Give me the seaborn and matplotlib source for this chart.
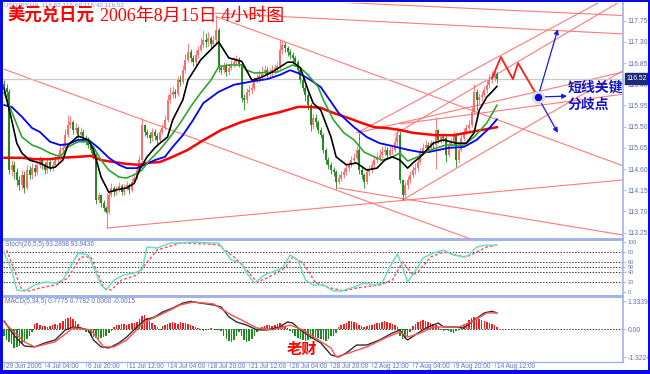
import numpy as np
import seaborn as sns
import matplotlib.pyplot as plt
from matplotlib.patches import Rectangle
from matplotlib.transforms import blended_transform_factory, ScaledTranslation

sns.set_theme(style="white")
plt.rcParams['font.family'] = ['Liberation Sans', 'DejaVu Sans', 'Noto Sans CJK SC']

CJK = ['Noto Sans CJK SC', 'DejaVu Sans']
SERIF_CJK = ['Liberation Serif', 'Noto Sans CJK SC']

# USDJPY H4 bars, 29 Jun 2006 12:00 .. 15 Aug 2006
FIRST_OPEN = 116.40
close = [
    116.32, 116.24, 114.58, 114.69, 114.54, 114.37, 114.26, 114.48, 114.20, 114.58,
    114.48, 114.62, 114.54, 114.69, 114.79, 114.69, 114.58, 114.75, 114.62, 114.69,
    114.79, 114.84, 115.01, 115.05, 115.32, 115.54, 115.60, 115.43, 115.47, 115.32,
    115.39, 115.26, 115.22, 115.11, 115.01, 114.90, 113.94, 114.05, 113.88, 113.77,
    113.69, 114.05, 114.20, 114.11, 114.16, 114.24, 114.11, 114.20, 114.26, 114.16,
    114.33, 114.41, 114.58, 114.79, 115.54, 115.39, 115.32, 115.26, 115.39, 115.30,
    115.22, 115.39, 115.47, 115.64, 116.07, 116.17, 116.24, 116.19, 116.49, 116.45,
    116.70, 116.92, 117.09, 116.96, 116.87, 117.02, 117.13, 117.23, 117.34, 117.30,
    117.38, 117.26, 117.34, 117.55, 116.75, 116.70, 116.79, 116.66, 116.75, 116.83,
    116.87, 116.92, 116.83, 116.11, 116.07, 116.24, 116.28, 116.32, 116.49, 116.53,
    116.58, 116.66, 116.70, 116.62, 116.66, 116.70, 116.75, 116.79, 117.13, 117.23,
    117.17, 117.09, 117.02, 116.96, 116.87, 116.70, 116.49, 116.32, 116.17, 115.96,
    115.54, 115.68, 115.60, 115.43, 115.32, 115.01, 114.79, 114.69, 114.58, 114.54,
    114.33, 114.41, 114.48, 114.54, 114.62, 114.69, 114.79, 114.84, 115.01, 114.58,
    114.48, 114.33, 114.54, 114.58, 114.69, 114.79, 114.84, 114.90, 114.96, 115.01,
    114.90, 115.01, 115.01, 115.18, 115.32, 114.37, 114.05, 114.26, 114.37, 114.48,
    114.58, 114.62, 114.75, 114.96, 115.05, 115.11, 115.05, 115.15, 115.11, 115.43,
    115.22, 115.28, 115.26, 114.90, 115.11, 115.18, 115.32, 114.79, 115.01, 115.26,
    115.39, 115.47, 115.54, 115.81, 116.24, 116.07, 116.13, 116.17, 116.28, 116.39,
    116.49, 116.53, 116.62, 116.52]
high = [
    116.50, 116.40, 116.30, 114.80, 114.78, 114.62, 114.45, 114.58, 114.55, 114.68,
    114.66, 114.72, 114.70, 114.78, 114.88, 114.86, 114.75, 114.84, 114.80, 114.78,
    114.88, 114.95, 115.10, 115.15, 115.45, 115.75, 115.72, 115.65, 115.58, 115.52,
    115.50, 115.45, 115.32, 115.28, 115.15, 115.06, 114.95, 114.12, 114.08, 113.95,
    113.82, 114.12, 114.30, 114.25, 114.24, 114.32, 114.28, 114.28, 114.35, 114.30,
    114.42, 114.50, 114.66, 114.90, 115.68, 115.55, 115.45, 115.38, 115.48, 115.45,
    115.36, 115.46, 115.56, 115.75, 116.20, 116.35, 116.36, 116.30, 116.58, 116.60,
    116.82, 117.05, 117.28, 117.15, 117.02, 117.12, 117.22, 117.40, 117.55, 117.48,
    117.50, 117.42, 117.45, 117.87, 117.60, 116.82, 116.88, 116.85, 116.84, 116.92,
    116.98, 117.02, 116.98, 116.86, 116.20, 116.32, 116.38, 116.42, 116.56, 116.62,
    116.70, 116.78, 116.82, 116.76, 116.75, 116.80, 116.84, 116.88, 117.37, 117.32,
    117.30, 117.22, 117.15, 117.08, 117.00, 116.92, 116.75, 116.55, 116.38, 116.22,
    116.00, 115.78, 115.76, 115.65, 115.50, 115.36, 115.05, 114.85, 114.75, 114.65,
    114.58, 114.50, 114.56, 114.62, 114.72, 114.78, 114.88, 114.95, 115.10, 115.36,
    114.65, 114.52, 114.62, 114.68, 114.78, 114.88, 114.96, 115.02, 115.08, 115.12,
    115.06, 115.10, 115.12, 115.28, 115.50, 115.40, 114.40, 114.35, 114.45, 114.56,
    114.66, 114.72, 114.84, 115.05, 115.15, 115.22, 115.18, 115.22, 115.20, 115.70,
    115.45, 115.36, 115.36, 115.30, 115.20, 115.26, 115.40, 115.36, 115.10, 115.34,
    115.48, 115.56, 115.64, 115.92, 116.40, 116.30, 116.22, 116.26, 116.36, 116.50,
    116.62, 116.68, 116.70, 116.66]
low = [
    116.20, 116.12, 114.50, 114.45, 114.40, 114.25, 114.16, 114.18, 114.10, 114.15,
    114.40, 114.40, 114.45, 114.48, 114.62, 114.60, 114.50, 114.52, 114.55, 114.56,
    114.64, 114.72, 114.80, 114.95, 115.00, 115.28, 115.48, 115.35, 115.36, 115.25,
    115.28, 115.18, 115.12, 115.04, 114.94, 114.82, 113.85, 113.88, 113.80, 113.70,
    113.66, 113.65, 114.00, 114.02, 114.06, 114.12, 114.04, 114.06, 114.15, 114.08,
    114.12, 114.28, 114.36, 114.52, 114.75, 115.30, 115.25, 115.16, 115.20, 115.22,
    115.12, 115.18, 115.34, 115.42, 115.60, 116.00, 116.10, 116.10, 116.15, 116.36,
    116.40, 116.65, 116.88, 116.88, 116.78, 116.82, 116.96, 117.08, 117.18, 117.20,
    117.22, 117.18, 117.22, 117.28, 116.66, 116.62, 116.64, 116.58, 116.60, 116.70,
    116.76, 116.80, 116.76, 116.02, 115.85, 116.00, 116.15, 116.20, 116.28, 116.42,
    116.45, 116.52, 116.58, 116.55, 116.55, 116.58, 116.62, 116.66, 116.72, 117.05,
    117.08, 117.00, 116.94, 116.86, 116.78, 116.62, 116.42, 116.25, 116.05, 115.86,
    115.40, 115.46, 115.50, 115.36, 115.26, 114.95, 114.70, 114.60, 114.50, 114.45,
    114.18, 114.28, 114.35, 114.42, 114.48, 114.55, 114.64, 114.72, 114.80, 114.50,
    114.40, 114.20, 114.28, 114.46, 114.52, 114.62, 114.72, 114.78, 114.84, 114.90,
    114.84, 114.86, 114.92, 114.96, 115.10, 114.30, 113.94, 114.00, 114.18, 114.30,
    114.42, 114.50, 114.55, 114.70, 114.90, 115.00, 114.98, 115.00, 115.02, 114.60,
    115.15, 115.15, 115.18, 114.75, 114.85, 115.05, 115.12, 114.64, 114.72, 114.96,
    115.20, 115.34, 115.40, 115.50, 115.76, 115.85, 115.98, 116.05, 116.12, 116.22,
    116.32, 116.42, 116.46, 116.42]

# moving averages (bar index, price)
ma_black_bars = [0, 3, 5, 7, 10, 14, 18, 20, 23, 25, 29, 33, 35, 38, 41, 44, 48, 51, 53, 56,
                 59, 61, 64, 66, 70, 72, 77, 84, 88, 93, 97, 100, 105, 111, 113, 116, 119, 121, 124, 128,
                 130, 134, 138, 142, 146, 149, 152, 155, 158, 160, 163, 168, 172, 177, 181, 184, 186, 189, 191, 193]
ma_black = [116.32, 115.64, 115.15, 114.94, 114.79, 114.73, 114.62, 114.64, 114.79, 115.11,
            115.30, 115.22, 115.01, 114.43, 114.11, 114.16, 114.20, 114.30, 114.58, 114.86,
            115.05, 115.15, 115.28, 115.64, 116.07, 116.49, 116.92, 117.30, 116.96, 116.89,
            116.49, 116.53, 116.66, 116.87, 116.87, 116.75, 116.28, 116.00, 115.85, 115.28,
            114.86, 114.69, 114.73, 114.58, 114.62, 114.79, 114.86, 114.79, 114.62, 114.73,
            114.86, 115.15, 115.22, 115.15, 115.15, 115.37, 115.85, 116.13, 116.24, 116.36]
ma_green_bars = [0, 7, 11, 14, 18, 22, 25, 29, 33, 35, 38, 41, 45, 48, 51, 54, 57, 61, 65, 69,
                 73, 77, 81, 84, 88, 93, 95, 98, 107, 113, 116, 119, 123, 125, 129, 133, 137, 141, 145, 148,
                 152, 155, 158, 162, 167, 173, 180, 184, 189, 193]
ma_green = [116.22, 115.28, 115.11, 115.05, 114.94, 114.86, 115.07, 115.18, 115.18, 115.07,
            114.79, 114.58, 114.43, 114.41, 114.48, 114.58, 114.79, 115.01, 115.28, 115.58,
            115.92, 116.22, 116.49, 116.77, 116.81, 116.81, 116.70, 116.64, 116.66, 116.81,
            116.75, 116.60, 116.34, 116.07, 115.64, 115.37, 115.22, 114.96, 114.86, 114.79,
            114.86, 114.94, 114.77, 114.86, 115.01, 115.11, 115.11, 115.28, 115.58, 115.96]
ma_blue_bars = [0, 3, 7, 11, 14, 18, 22, 25, 29, 33, 37, 41, 45, 48, 52, 55, 59, 63, 66, 70,
                74, 78, 84, 90, 98, 103, 108, 112, 116, 120, 124, 131, 137, 142, 147, 152, 158, 163, 166, 174,
                180, 185, 190, 193]
ma_blue = [115.96, 115.92, 115.71, 115.47, 115.39, 115.18, 115.11, 115.13, 115.22, 115.22,
           115.05, 114.84, 114.69, 114.62, 114.62, 114.69, 114.79, 114.86, 115.07, 115.32,
           115.64, 116.00, 116.24, 116.39, 116.47, 116.51, 116.60, 116.70, 116.62, 116.49,
           116.34, 115.79, 115.49, 115.28, 115.15, 115.09, 115.01, 114.96, 114.96, 115.05,
           115.07, 115.22, 115.47, 115.66]
ma_red_bars = [0, 7, 12, 18, 22, 29, 34, 38, 43, 48, 53, 56, 61, 66, 72, 77, 85, 93, 100, 108,
               115, 120, 124, 129, 135, 140, 145, 150, 155, 160, 169, 176, 183, 193]
ma_red = [114.84, 114.84, 114.81, 114.81, 114.84, 114.86, 114.88, 114.79, 114.75, 114.71,
          114.69, 114.73, 114.75, 114.86, 115.01, 115.18, 115.43, 115.60, 115.71, 115.81,
          115.92, 115.92, 115.90, 115.79, 115.68, 115.58, 115.49, 115.47, 115.43, 115.37,
          115.32, 115.32, 115.39, 115.49]

# Stochastic(26,5,5)
stoch_k_bars = [0, 3, 5, 8, 12, 16, 20, 23, 26, 29, 33, 35, 38, 40, 43, 47, 51, 54, 56, 60,
                65, 70, 74, 80, 84, 89, 93, 95, 98, 102, 105, 109, 112, 115, 118, 121, 125, 129, 132, 137,
                141, 145, 148, 151, 154, 156, 158, 162, 164, 168, 172, 176, 180, 182, 185, 189, 193]
stoch_k = [80, 44, 4, 2, 14, 20, 18, 24, 50, 78, 74, 50, 14, 4, 24, 34, 38, 44, 90, 88,
           98, 98, 100, 98, 98, 64, 58, 38, 18, 34, 40, 48, 74, 64, 24, 14, 14, 2, 2, 10,
           18, 14, 18, 50, 76, 50, 20, 50, 68, 78, 84, 74, 70, 74, 90, 94, 93]
stoch_d_bars = [1, 7, 10, 14, 20, 25, 30, 34, 37, 39, 42, 46, 52, 56, 60, 69, 80, 84, 90, 94,
                99, 103, 110, 113, 117, 122, 128, 133, 138, 147, 152, 156, 160, 162, 167, 172, 177, 181, 185, 189,
                193]
stoch_d = [84, 4, 2, 8, 14, 28, 70, 70, 34, 8, 4, 24, 34, 60, 84, 98, 96, 94, 70, 50,
           20, 28, 48, 70, 58, 18, 8, 2, 8, 14, 24, 60, 34, 40, 70, 80, 74, 70, 80, 90,
           94]
stoch_levels = [20, 40, 50, 60, 80]
stoch_ticks = [100, 80, 60, 50, 40, 20, 0]

# MACD(5,34,5)
macd_main_bars = [0, 4, 8, 12, 16, 20, 24, 27, 30, 33, 35, 38, 41, 45, 48, 52, 55, 59, 62, 66,
                  70, 73, 77, 82, 85, 88, 91, 95, 99, 103, 108, 111, 113, 116, 120, 124, 128, 131, 134, 138,
                  142, 147, 152, 155, 157, 158, 162, 166, 170, 172, 176, 180, 184, 188, 191, 193]
macd_main = [0.40, -0.30, -0.80, -0.84, -0.65, -0.51, -0.03, 0.11, 0.06, -0.03,
             -0.51, -0.84, -0.89, -0.65, -0.37, 0.11, 0.44, 0.59, 0.82, 1.01,
             1.25, 1.33, 1.25, 1.16, 1.06, 0.59, 0.35, 0.20, -0.03, -0.03,
             0.11, 0.35, 0.30, -0.03, -0.37, -0.65, -1.22, -1.32, -1.13, -0.75,
             -0.75, -0.51, -0.18, -0.03, -0.41, -0.51, -0.18, 0.11, 0.30, 0.11,
             0.11, 0.06, 0.44, 0.78, 0.86, 0.78]
macd_signal_bars = [0, 4, 8, 12, 20, 27, 34, 39, 43, 48, 55, 61, 69, 74, 82, 89, 93, 99, 105, 112,
                    117, 123, 128, 130, 135, 142, 150, 155, 158, 163, 168, 173, 178, 183, 189, 193]
macd_signal = [0.35, -0.15, -0.60, -0.84, -0.60, 0.06, -0.03, -0.84, -0.84, -0.51,
               0.35, 0.68, 1.16, 1.30, 1.21, 0.68, 0.44, 0.06, -0.03, 0.20,
               -0.03, -0.51, -0.89, -1.32, -1.13, -0.84, -0.37, -0.13, -0.37, -0.18,
               0.11, 0.11, 0.11, 0.35, 0.78, 0.78]
macd_hist = [
    -0.3, -0.5, -0.6, -0.7, -0.9, -0.85, -0.8, -0.7, -0.6, -0.45,
    -0.3, -0.15, 0.25, 0.3, 0.2, 0.15, 0.15, 0.12, 0.18, 0.2,
    0.25, 0.2, 0.3, 0.4, 0.5, 0.55, 0.6, 0.5, 0.4, 0.25,
    0.1, -0.05, -0.15, -0.2, -0.3, -0.35, -0.4, -0.45, -0.4, -0.35,
    -0.3, -0.2, -0.1, 0.1, 0.2, 0.2, 0.25, 0.25, 0.2, 0.25,
    0.3, 0.3, 0.35, 0.5, 0.65, 0.7, 0.55, 0.4, 0.3, 0.2,
    0.1, -0.05, 0.15, 0.2, 0.25, 0.3, 0.35, 0.3, 0.25, 0.35,
    0.3, 0.3, 0.25, 0.2, 0.15, 0.1, 0.05, -0.05, -0.08, -0.05,
    0.03, 0.05, 0.03, -0.03, -0.05, -0.1, -0.3, -0.45, -0.55, -0.6,
    -0.5, -0.3, -0.15, -0.3, -0.5, -0.6, -0.55, -0.45, -0.3, -0.15,
    0.05, 0.1, 0.15, 0.2, 0.2, 0.15, 0.2, 0.25, 0.3, 0.25,
    0.15, 0.05, -0.1, -0.2, -0.3, -0.4, -0.45, -0.5, -0.55, -0.5,
    -0.45, -0.4, -0.35, -0.4, -0.45, -0.5, -0.55, -0.45, -0.3, -0.3,
    -0.2, 0.1, 0.2, 0.25, 0.3, 0.4, 0.4, 0.35, 0.3, 0.2,
    0.15, 0.1, 0.15, 0.2, 0.2, 0.25, 0.3, 0.3, 0.35, 0.4,
    0.35, 0.3, 0.25, 0.2, 0.1, -0.3, -0.45, -0.4, -0.3, -0.15,
    0.15, 0.25, 0.35, 0.4, 0.45, 0.4, 0.35, 0.3, 0.25, 0.2,
    0.1, -0.05, -0.1, -0.05, -0.1, -0.15, -0.2, -0.1, -0.05, 0.1,
    0.2, 0.3, 0.45, 0.55, 0.6, 0.55, 0.5, 0.45, 0.4, 0.35,
    0.3, 0.25, 0.2, 0.1]
macd_ticks = [1.3339, 0.0, -1.3224]
macd_tick_labels = ['1.3339', '0.00', '-1.3224']

price_ticks = [117.75, 117.30, 116.85, 116.40, 115.95, 115.50, 115.05,
               114.60, 114.15, 113.70, 113.25]
last_price = 116.52

date_bars = [0, 16, 32, 48, 64, 80, 96, 112, 128, 144, 160, 176, 192]
date_labels = ['29 Jun 2006', '4 Jul 04:00', '6 Jul 20:00', '11 Jul 12:00',
               '14 Jul 04:00', '18 Jul 20:00', '21 Jul 12:00', '26 Jul 04:00',
               '28 Jul 20:00', '2 Aug 12:00', '7 Aug 04:00', '9 Aug 20:00',
               '14 Aug 12:00']

# hand-drawn trend lines: (bar0, price0, bar1, price1)
trend_lines = [
    (0, 116.72, 190, 112.97),
    (83.4, 117.83, 242.3, 114.67),
    (111.9, 118.19, 242.3, 117.86),
    (82.6, 117.91, 242.3, 117.47),
    (155.8, 113.94, 242.3, 116.69),
    (138.2, 115.37, 233.3, 118.15),
    (153.0, 115.34, 241.5, 118.17),
    (138.2, 115.37, 242.3, 116.66),
    (155.0, 115.56, 242.3, 116.19),
    (40.3, 113.35, 242.3, 114.37),
    (130.7, 114.20, 242.3, 113.20),
    (40.3, 114.09, 40.3, 113.35),
]

# projected path and the pivot point
zigzag_bars = [191.0, 194.5, 199.2, 201.2, 207.8]
zigzag_prices = [116.53, 116.98, 116.51, 116.85, 116.24]
pivot_bar, pivot_price = 209.0, 116.13
arrow_ends = [(216.8, 117.57), (220.4, 116.15), (216.8, 115.37)]

W, H = 650, 374
PLOT_W = 620
AXIS_BLUE = '#a3b3ea'
LABEL_COLOR = '#5f6fb5'
XLIM = (-0.4, 242.3)


def fig_rect(px_left, px_top, px_w, px_h):
    return [px_left / W, 1 - (px_top + px_h) / H, px_w / W, px_h / H]


def style_panel(ax, label_size=4.9):
    for side in ['top', 'left', 'bottom']:
        ax.spines[side].set_visible(False)
    ax.spines['right'].set_color(AXIS_BLUE)
    ax.spines['right'].set_linewidth(1.2)
    ax.yaxis.tick_right()
    ax.tick_params(axis='y', length=2, width=0.6, pad=1.5, colors=AXIS_BLUE,
                   labelsize=label_size, labelcolor=LABEL_COLOR)
    ax.set_xlim(*XLIM)
    ax.set_xticks([])
    ax.set_xlabel('')
    ax.set_ylabel('')
    ax.grid(False)


def draw_main(ax):
    c = np.array(close)
    o = np.array([FIRST_OPEN] + close[:-1])
    x = np.arange(len(c))
    cols = np.where(c >= o, '#ff6a6a', '#1d8c1d')

    for b0, p0, b1, p1 in trend_lines:
        ax.plot([b0, b1], [p0, p1], color='#ff7a7a', lw=0.8, zorder=1)
    ax.axhline(last_price, color='#c9c9c9', lw=0.9, zorder=1)

    ax.vlines(x, low, high, colors=cols, lw=0.6, zorder=2)
    ax.vlines(x, np.minimum(o, c), np.maximum(o, c), colors=cols, lw=1.4, zorder=2)

    sns.lineplot(x=ma_red_bars, y=ma_red, ax=ax, color='#ff0000', lw=1.8,
                 estimator=None, sort=False, zorder=3)
    sns.lineplot(x=ma_blue_bars, y=ma_blue, ax=ax, color='#0000ff', lw=1.3,
                 estimator=None, sort=False, zorder=3)
    sns.lineplot(x=ma_green_bars, y=ma_green, ax=ax, color='#2fa52f', lw=1.2,
                 estimator=None, sort=False, zorder=3)
    sns.lineplot(x=ma_black_bars, y=ma_black, ax=ax, color='#000000', lw=1.2,
                 estimator=None, sort=False, zorder=4)

    sns.lineplot(x=zigzag_bars, y=zigzag_prices, ax=ax, color='#ff1a1a', lw=1.3,
                 estimator=None, sort=False, zorder=5)
    for ex, ey in arrow_ends:
        ax.annotate('', xy=(ex, ey), xytext=(pivot_bar, pivot_price),
                    arrowprops=dict(arrowstyle='-|>', color='#1a1aee', lw=0.9,
                                    mutation_scale=7, shrinkA=4, shrinkB=0),
                    zorder=6, annotation_clip=False)
    ax.scatter([pivot_bar], [pivot_price], s=90, color='#dcdcdc', zorder=6, lw=0)
    ax.scatter([pivot_bar], [pivot_price], s=28, color='#0000e6', zorder=7, lw=0)

    ax.text(220.6, 116.34, '短线关键', family=CJK, fontsize=10, weight='bold',
            color='#1414c8', va='center', ha='left', zorder=8)
    ax.text(220.6, 115.96, '分歧点', family=CJK, fontsize=10, weight='bold',
            color='#1414c8', va='center', ha='left', zorder=8)

    style_panel(ax)
    ax.set_ylim(113.137, 118.126)
    ax.set_yticks(price_ticks)
    ax.set_yticklabels([f'{t:.2f}' for t in price_ticks])
    trans = blended_transform_factory(ax.transAxes, ax.transData)
    ax.text(1.006, last_price, f'{last_price:.2f}', transform=trans, fontsize=4.9,
            color='white', va='center', ha='left', zorder=10, clip_on=False,
            bbox=dict(boxstyle='square,pad=0.3', fc='#1c2a7a', ec='#1c2a7a'))


def draw_stoch(ax):
    for lv in stoch_levels:
        ax.axhline(lv, color='#3a3a3a', lw=0.7, ls=(0, (1.5, 1.5)), zorder=1)
    sns.lineplot(x=stoch_d_bars, y=stoch_d, ax=ax, color='#ff4d4d', lw=1.0,
                 linestyle=(0, (2, 1.5)), estimator=None, sort=False, zorder=2)
    sns.lineplot(x=stoch_k_bars, y=stoch_k, ax=ax, color='#6fdcc4', lw=1.1,
                 estimator=None, sort=False, zorder=3)
    style_panel(ax, label_size=3.9)
    ax.set_ylim(-6, 104)
    ax.set_yticks(stoch_ticks)
    ax.set_yticklabels([str(t) for t in stoch_ticks])
    ax.text(0.003, 0.92, 'Stoch(26,5,5) 93.2898 93.9436', transform=ax.transAxes,
            fontsize=4.7, color=LABEL_COLOR, va='center', ha='left')


def draw_macd(ax, fig):
    h = np.array(macd_hist)
    x = np.arange(len(h))
    ax.axhline(0, color='#3a3a3a', lw=0.7, ls=(0, (1.5, 1.5)), zorder=1)
    ax.bar(x, h, width=0.6, color=np.where(h >= 0, '#ff1a1a', '#1f8a1f'),
           linewidth=0, zorder=2)
    sns.lineplot(x=macd_main_bars, y=macd_main, ax=ax, color='#303030', lw=1.0,
                 estimator=None, sort=False, zorder=3)
    sns.lineplot(x=macd_signal_bars, y=macd_signal, ax=ax, color='#ff5050', lw=1.0,
                 estimator=None, sort=False, zorder=3)
    style_panel(ax)
    ax.set_ylim(-1.56, 1.54)
    ax.set_yticks(macd_ticks)
    ax.set_yticklabels(macd_tick_labels)
    ax.spines['bottom'].set_visible(True)
    ax.spines['bottom'].set_color(AXIS_BLUE)
    ax.spines['bottom'].set_linewidth(1.0)
    ax.set_xticks(date_bars)
    ax.set_xticklabels(date_labels, ha='left')
    ax.tick_params(axis='x', length=3.5, width=0.6, colors=AXIS_BLUE, pad=-2.6,
                   labelsize=4.7, labelcolor=LABEL_COLOR, bottom=True)
    shift = ScaledTranslation(2 / 100, 0, fig.dpi_scale_trans)
    for lbl in ax.get_xticklabels():
        lbl.set_transform(lbl.get_transform() + shift)
    ax.text(0.003, 0.93, 'MACD(5,34,5) 0.7775 0.7782 0.0000 -0.0015',
            transform=ax.transAxes, fontsize=4.7, color=LABEL_COLOR,
            va='center', ha='left')
    ax.text(0.458, 0.2, '老财', transform=ax.transAxes, family=CJK, fontsize=11,
            weight='bold', color='#ff0000', va='center', ha='left', zorder=5)


def main():
    fig = plt.figure(figsize=(W / 100, H / 100), dpi=100)
    fig.patch.set_facecolor('white')
    ax_main = fig.add_axes(fig_rect(3, 3, PLOT_W, 235))
    ax_stoch = fig.add_axes(fig_rect(3, 240, PLOT_W, 55))
    ax_macd = fig.add_axes(fig_rect(3, 297, PLOT_W, 65))

    draw_main(ax_main)
    draw_stoch(ax_stoch)
    draw_macd(ax_macd, fig)

    # panel separators
    for top in [238, 295]:
        r = fig_rect(3, top, PLOT_W + 1, 2.5)
        fig.add_artist(Rectangle(r[:2], r[2], r[3], transform=fig.transFigure,
                                 color=AXIS_BLUE, lw=0))

    # window frame
    for rect in [(0, 0, 3, H), (0, H - 4, W, 4), (0, 0, W, 2), (W - 2, 0, 2, H)]:
        r = fig_rect(*rect)
        fig.add_artist(Rectangle(r[:2], r[2], r[3], transform=fig.transFigure,
                                 color='#0a0ae6', lw=0))

    fig.text(4 / W, 1 - 5 / H, 'USDJPY,H4  116.62 116.66 116.42 116.52',
             fontsize=4.6, color='#8090c8', va='center', ha='left')
    fig.text(7 / W, 1 - 16 / H, '美元兑日元', family=CJK, fontsize=12.5,
             weight='bold', color='#ff0000', va='center', ha='left')
    fig.text(100 / W, 1 - 16 / H, '2006年8月15日 4小时图', family=SERIF_CJK,
             fontsize=13, color='#ff0000', va='center', ha='left')

    fig.savefig('out.png', dpi=100)


if __name__ == '__main__':
    main()
